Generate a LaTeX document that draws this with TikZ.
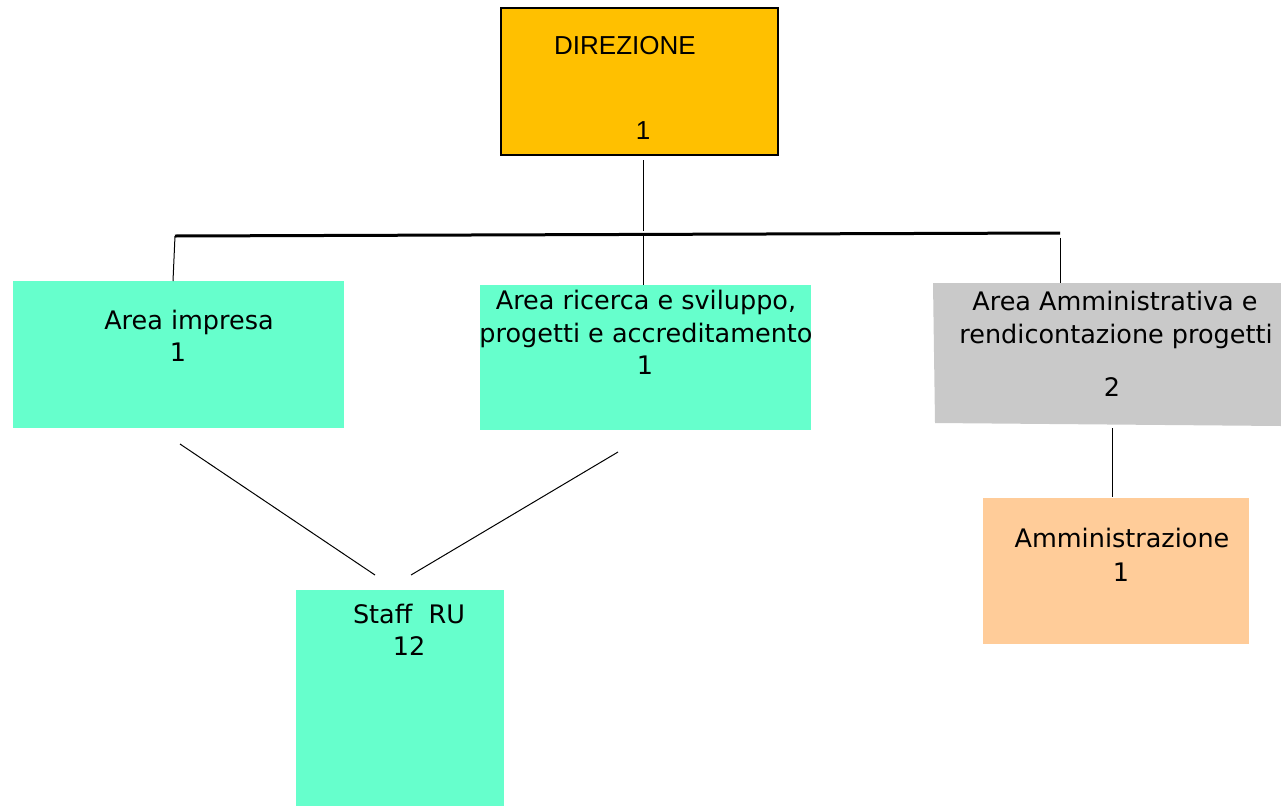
\documentclass[tikz,border=0pt]{standalone}
\usepackage{fontspec}
\setmainfont{DejaVu Sans}
\newfontfamily\helv{Liberation Sans}
\definecolor{dirfill}{HTML}{FFC000}
\definecolor{aqua}{HTML}{66FFCC}
\definecolor{greyfill}{HTML}{C9C9C9}
\definecolor{peach}{HTML}{FFCC99}
\tikzset{
  lbl/.style={inner sep=0pt, anchor=base, font=\fontsize{25.5}{32}\selectfont},
  dlbl/.style={inner sep=0pt, anchor=base, font=\helv\fontsize{26}{30}\selectfont},
  conn/.style={draw=black, line width=1pt},
}
\begin{document}
\begin{tikzpicture}[x=1pt,y=-1pt]
\useasboundingbox (0,0) rectangle (1281,806);
% boxes
\node[draw=black, line width=1.5pt, fill=dirfill, minimum width=277pt, minimum height=147pt, anchor=north west, inner sep=0pt] (dir) at (500,7) {};
\node[dlbl] (dirt) at (625,54) {DIREZIONE};
\node[dlbl] (dirn) at (643,139) {1};

\node[fill=aqua, minimum width=331pt, minimum height=147pt, anchor=north west, inner sep=0pt] (imp) at (13,281) {};
\node[lbl] (impt) at (189,329) {Area impresa};
\node[lbl] (impn) at (178,361) {1};

\node[fill=aqua, minimum width=331pt, minimum height=145pt, anchor=north west, inner sep=0pt] (ric) at (480,285) {};
\node[lbl] (rict1) at (646,309) {Area ricerca e sviluppo,};
\node[lbl] (rict2) at (646,342) {progetti e accreditamento};
\node[lbl] (ricn) at (645,374) {1};

\path[fill=greyfill] (933,283) -- (1281,283) -- (1281,426) -- (935,423) -- cycle;
\node[lbl] (ammt1) at (1115,310) {Area Amministrativa e};
\node[lbl] (ammt2) at (1116,343) {rendicontazione progetti};
\node[lbl] (ammn) at (1112,396) {2};

\node[fill=peach, minimum width=266pt, minimum height=146pt, anchor=north west, inner sep=0pt] (adm) at (983,498) {};
\node[lbl] (admt) at (1122,547) {Amministrazione};
\node[lbl] (admn) at (1121,581) {1};

\node[fill=aqua, minimum width=208pt, minimum height=216pt, anchor=north west, inner sep=0pt] (staff) at (296,590) {};
\node[lbl] (stafft) at (409,623) {Staff\ \ RU};
\node[lbl] (staffn) at (409,655) {12};

% connector coordinates
\coordinate (d0) at (643,160);
\coordinate (d1) at (643,231);
\coordinate (hl) at (175,236);
\coordinate (hr) at (1060,233);
\coordinate (m0) at (643,236);
\coordinate (m1) at (643,285);
\coordinate (l1) at (173,281);
\coordinate (r0) at (1060,238);
\coordinate (r1) at (1060,283);
\coordinate (g0) at (1112,428);
\coordinate (g1) at (1112,497);
\coordinate (a0) at (180,444);
\coordinate (a1) at (375,575);
\coordinate (b0) at (618,452);
\coordinate (b1) at (411,575);

\draw[conn] (d0) -- (d1);
\draw[draw=black, line width=3pt] (hl) -- (hr);
\draw[conn] (hl) -- (l1);
\draw[conn] (m0) -- (m1);
\draw[conn] (r0) -- (r1);
\draw[conn] (g0) -- (g1);
\draw[conn] (a0) -- (a1);
\draw[conn] (b0) -- (b1);
\end{tikzpicture}
\end{document}
